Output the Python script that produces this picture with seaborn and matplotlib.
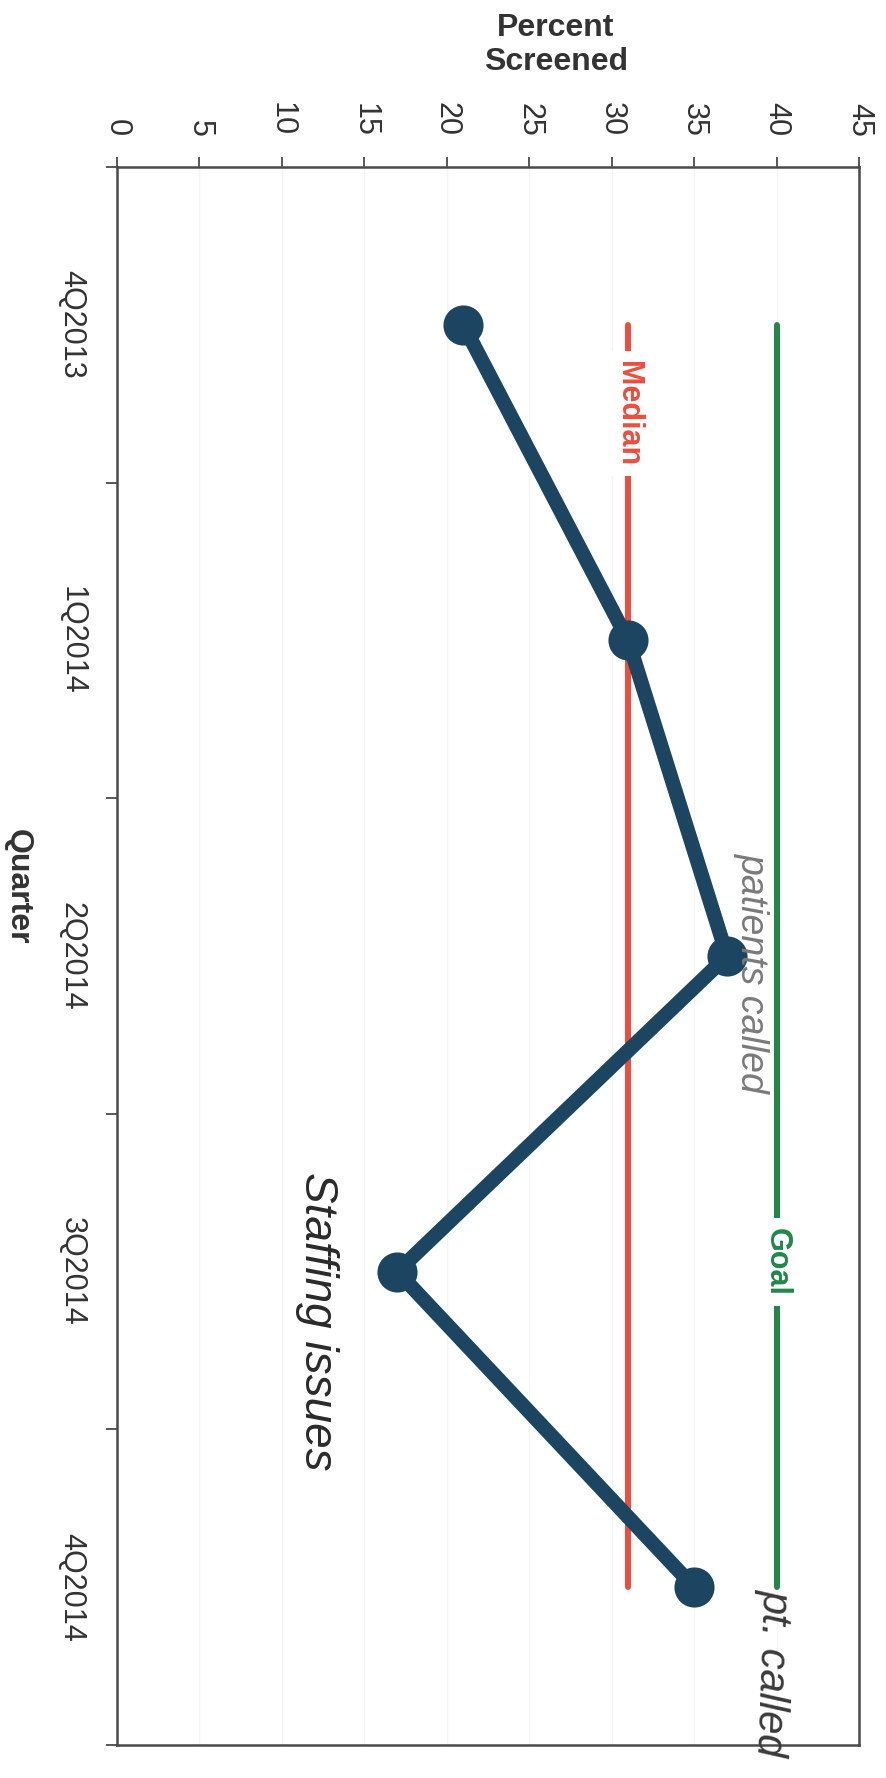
import numpy as np
import pandas as pd
import matplotlib
matplotlib.use("Agg")
import matplotlib.pyplot as plt
import seaborn as sns

# ---- data ----
quarters = ["4Q2013", "1Q2014", "2Q2014", "3Q2014", "4Q2014"]
percent_screened = [21, 31, 37, 17, 35]
median_value = 31
goal_value = 40
x_ticks = [0, 5, 10, 15, 20, 25, 30, 35, 40, 45]
notes = ["patients called", "Staffing issues", "pt. called"]

sns.set_style("white")
plt.rcParams["font.family"] = ["Liberation Sans", "DejaVu Sans"]

NAVY = "#1c4562"
RED = "#ee4d3c"
GREEN = "#20874a"
TXT = "#333333"
FRAME = "#4a4a4a"

df = pd.DataFrame({"quarter": quarters, "pct": percent_screened})

fig = plt.figure(figsize=(8.86, 17.78), dpi=100)
W, H = 886, 1778
ax = fig.add_axes([117 / W, 1 - 1745 / H, (859 - 117) / W, (1745 - 167) / H])

# faint vertical grid
for xv in x_ticks[1:-1]:
    ax.axvline(xv, color="#f4f4f4", lw=1.0, zorder=0)

n = len(quarters)
# median / goal reference lines (from first to last quarter)
ax.plot([median_value, median_value], [0, n - 1], color=RED, lw=4.3,
        solid_capstyle="round", zorder=2)
ax.plot([goal_value, goal_value], [0, n - 1], color=GREEN, lw=4.3,
        solid_capstyle="round", zorder=2)
ax.text(median_value, 0.28, "Median", rotation=-90, ha="center", va="center",
        color=RED, fontsize=22, fontweight="bold", zorder=3,
        bbox=dict(facecolor="white", edgecolor="none", pad=7))
ax.text(goal_value, 2.97, "Goal", rotation=-90, ha="center", va="center",
        color=GREEN, fontsize=22, fontweight="bold", zorder=3,
        bbox=dict(facecolor="white", edgecolor="none", pad=7))

# main series
sns.pointplot(data=df, x="pct", y="quarter", order=quarters, orient="h",
              color=NAVY, errorbar=None, markersize=21, linewidth=10.5,
              ax=ax, zorder=4)

ax.set_xlim(0, 45)
ax.set_ylim(n - 0.5, -0.5)

# x axis on top
ax.xaxis.tick_top()
ax.set_xticks(x_ticks)
ax.set_xticklabels([str(v) for v in x_ticks])
ax.tick_params(axis="x", top=True, bottom=False, labeltop=True, labelbottom=False,
               labelrotation=-90, labelsize=22, labelcolor=TXT, length=7,
               width=1.3, color=FRAME, pad=15)
for lbl in ax.get_xticklabels():
    lbl.set_va("bottom")
    lbl.set_ha("center")

# y axis: boundary ticks, centered labels
ax.set_yticks(np.arange(-0.5, n, 1.0))
ax.set_yticklabels([])
ax.set_yticks(np.arange(n), minor=True)
ax.set_yticklabels(quarters, minor=True, rotation=-90, va="center", ha="right")
ax.tick_params(axis="y", which="major", left=True, length=8, width=1.3, color=FRAME)
ax.tick_params(axis="y", which="minor", left=False, length=0, labelsize=22,
               labelcolor=TXT, pad=22)
ax.set_xlabel("")
ax.set_ylabel("")

for sp in ax.spines.values():
    sp.set_visible(True)
    sp.set_color(FRAME)
    sp.set_linewidth(1.8)

# axis titles
fig.text(556 / W, 1 - 45 / H, "Percent\nScreened", ha="center", va="center",
         fontsize=23, fontweight="bold", color=TXT, linespacing=1.15)
fig.text(18 / W, 1 - 887 / H, "Quarter", ha="center", va="center",
         rotation=-90, fontsize=23, fontweight="bold", color=TXT)

# handwritten notes
fig.text(752 / W, 1 - 973 / H, notes[0], ha="center", va="center", rotation=-90,
         fontsize=27, color="#7a7a7a", style="italic", fontweight="light")
fig.text(317 / W, 1 - 1321 / H, notes[1], ha="center", va="center", rotation=-90,
         fontsize=33, color="#2a2a2a", style="italic", fontweight="light")
fig.text(772 / W, 1 - 1672 / H, notes[2], ha="center", va="center", rotation=-92,
         fontsize=30, color="#3a3a3a", style="italic", fontweight="light")

fig.savefig("out.png", dpi=100, facecolor="white")
